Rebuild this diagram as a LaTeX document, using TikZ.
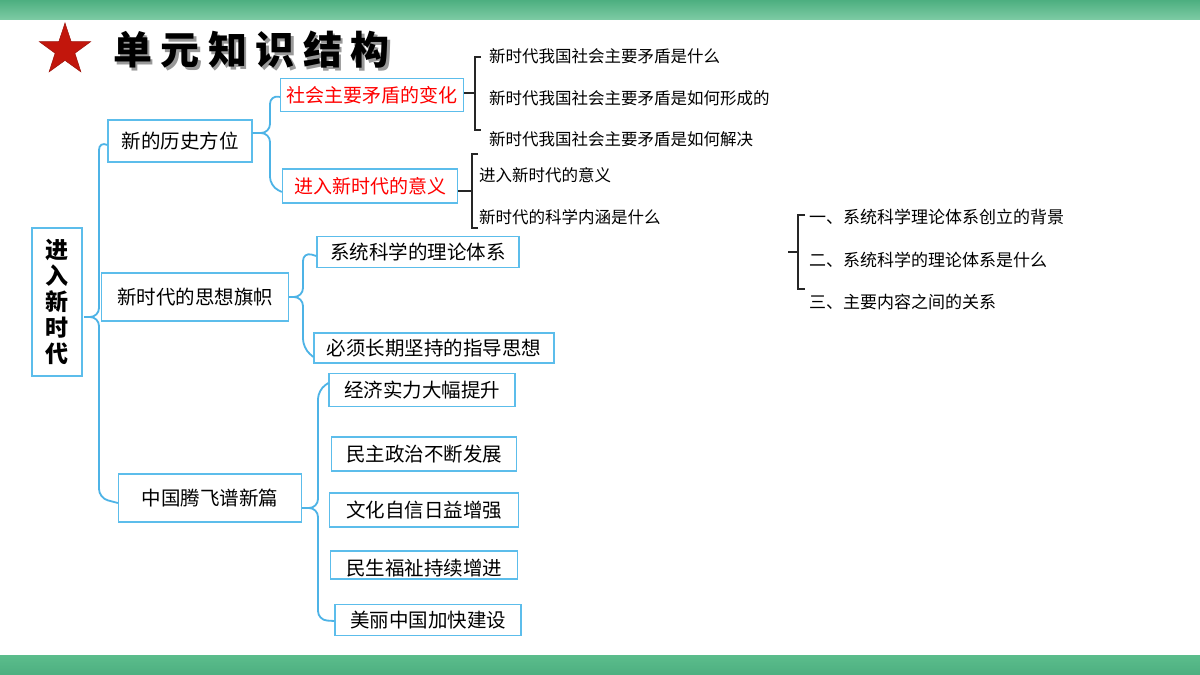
\documentclass[tikz,border=0pt]{standalone}
\usepackage{fontspec}
\setmainfont{Noto Sans CJK SC}
\usetikzlibrary{shapes.geometric}
\definecolor{barg}{HTML}{5BBD8C}
\definecolor{bargd}{HTML}{4DAF80}
\definecolor{boxb}{HTML}{5CBDEB}
\definecolor{brb}{HTML}{4DB3E6}
\definecolor{starred}{HTML}{C2160C}
\definecolor{txtred}{HTML}{FF0000}
\begin{document}
\begin{tikzpicture}[x=1pt,y=-1pt,
  box/.style={draw=boxb,line width=1.3pt,inner sep=0pt,fill=white,font=\fontsize{19.5}{22}\selectfont},
  sbox/.style={box,font=\fontsize{19}{22}\selectfont},
  plain/.style={inner sep=0pt,anchor=west,font=\fontsize{16.5}{19}\selectfont},
  brace/.style={draw=brb,line width=1.8pt,rounded corners=9pt},
  bracket/.style={draw=black!85,line width=1.3pt},
  ttl/.style={font=\fontsize{39}{42}\bfseries,anchor=west,inner sep=0pt}]
\useasboundingbox (0,0) rectangle (1200,675);
\fill[white] (0,0) rectangle (1200,675);
\shade[top color=bargd,bottom color=barg!80] (0,0) rectangle (1200,19);
\shade[top color=barg,bottom color=bargd] (0,655) rectangle (1200,675);
% star and title
\node[star,star points=5,star point ratio=2.6,minimum size=54pt,inner sep=0pt,fill=starred,draw=starred!80!black,line width=0.5pt] (star) at (65,50) {};
\node[ttl,text=black!40] (titleshadow) at (115.5,53) {单\hspace{8.5pt}元\hspace{8.5pt}知\hspace{8.5pt}识\hspace{8.5pt}结\hspace{8.5pt}构};
\node[ttl] (title) at (113,50) {单\hspace{8.5pt}元\hspace{8.5pt}知\hspace{8.5pt}识\hspace{8.5pt}结\hspace{8.5pt}构};
% root
\node[box,minimum width=50pt,minimum height=148pt,align=center,font=\fontsize{23}{26}\bfseries] (root) at (57,302) {进\\入\\新\\时\\代};
% level 1
\node[box,minimum width=144pt,minimum height=42pt] (lishi) at (180,141) {新的历史方位};
\node[box,minimum width=187pt,minimum height=48pt] (sixiang) at (195,297) {新时代的思想旗帜};
\node[box,minimum width=183pt,minimum height=48pt] (zhongguo) at (210,498) {中国腾飞谱新篇};
% level 2
\node[sbox,text=txtred,minimum width=183pt,minimum height=33pt] (maodun) at (372,95) {社会主要矛盾的变化};
\node[sbox,text=txtred,minimum width=175pt,minimum height=34pt] (yiyi) at (370,186) {进入新时代的意义};
\node[box,minimum width=202pt,minimum height=31pt] (xitong) at (418,252) {系统科学的理论体系};
\node[box,minimum width=240pt,minimum height=30pt] (bixu) at (434,348) {必须长期坚持的指导思想};
\node[box,minimum width=186pt,minimum height=33pt] (jingji) at (422,390) {经济实力大幅提升};
\node[box,minimum width=185pt,minimum height=34pt] (minzhu) at (424,454) {民主政治不断发展};
\node[box,minimum width=189pt,minimum height=34pt] (wenhua) at (424,510) {文化自信日益增强};
\node[box,minimum width=187pt,minimum height=28pt,text depth=0pt,text height=20pt] (minsheng) at (424,565) {民生福祉持续增进};
\node[box,minimum width=186pt,minimum height=31pt] (meili) at (428,620) {美丽中国加快建设};
% plain texts
\node[plain] (t1) at (489,56) {新时代我国社会主要矛盾是什么};
\node[plain] (t2) at (489,98) {新时代我国社会主要矛盾是如何形成的};
\node[plain] (t3) at (489,139) {新时代我国社会主要矛盾是如何解决};
\node[plain] (t4) at (479,175) {进入新时代的意义};
\node[plain] (t5) at (479,217) {新时代的科学内涵是什么};
\node[plain,font=\fontsize{17}{19}\selectfont] (t6) at (809,217) {一、系统科学理论体系创立的背景};
\node[plain,font=\fontsize{17}{19}\selectfont] (t7) at (809,260) {二、系统科学的理论体系是什么};
\node[plain,font=\fontsize{17}{19}\selectfont] (t8) at (809,302) {三、主要内容之间的关系};
% blue braces
\coordinate (c0) at (84,317); \coordinate (v0) at (99,0);
\draw[brace] (c0) -| (v0 |- lishi.west) -- ([yshift=-4pt]lishi.west);
\draw[brace] (c0) -| (v0 |- zhongguo.west) -- ([yshift=-5pt]zhongguo.west);
\coordinate (c1) at ([yshift=8pt]lishi.east); \coordinate (v1) at (270,0);
\draw[brace] (c1) -| (v1 |- maodun.west) -- ([yshift=-2pt]maodun.west);
\draw[brace] (c1) -| (v1 |- yiyi.west) -- ([yshift=-6pt]yiyi.west);
\coordinate (c2) at (sixiang.east); \coordinate (v2) at (303,0);
\draw[brace] (c2) -| (v2 |- xitong.west) -- ([yshift=-4pt]xitong.west);
\draw[brace] (c2) -| (v2 |- bixu.west) -- ([yshift=-9pt]bixu.west);
\coordinate (c3) at ([yshift=-10pt]zhongguo.east); \coordinate (v3) at (318,0);
\draw[brace] (c3) -| (v3 |- jingji.west) -- ([yshift=7pt]jingji.west);
\draw[brace] (c3) -| (v3 |- meili.west) -- ([yshift=-1pt]meili.west);
% black brackets
\draw[bracket] ([yshift=2pt]maodun.east) -- (475,93);
\draw[bracket] (481,57) -- (475,57) -- (475,130) -- (481,130);
\draw[bracket] ([yshift=-5pt]yiyi.east) -- (472,191);
\draw[bracket] (478,154) -- (472,154) -- (472,228) -- (478,228);
\coordinate (b3) at (788,252);
\draw[bracket] (b3) -- (798,252);
\draw[bracket] (805,215) -- (798,215) -- (798,289) -- (805,289);
\end{tikzpicture}
\end{document}
